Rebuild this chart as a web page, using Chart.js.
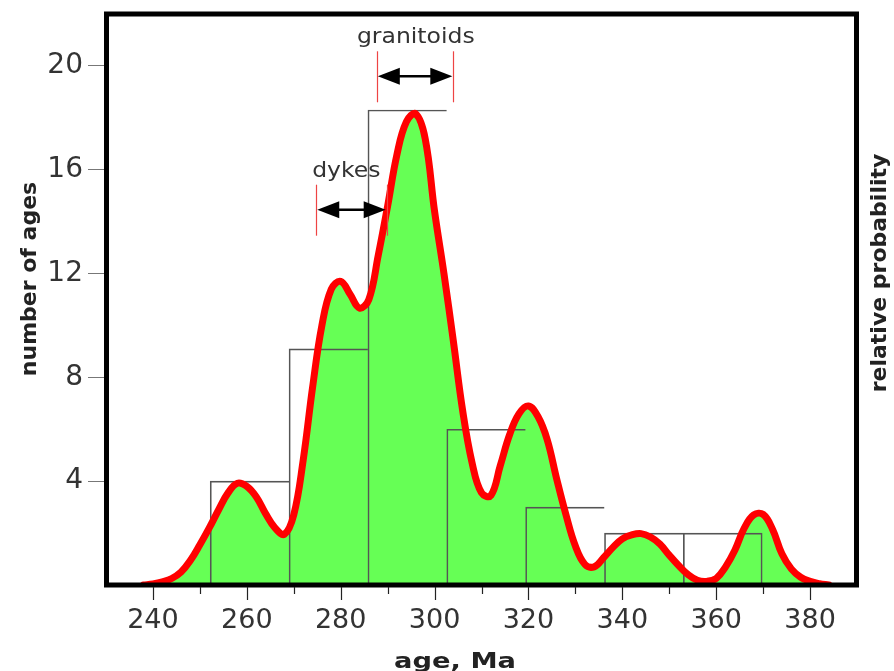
<!DOCTYPE html>
<html>
<head>
<meta charset="utf-8">
<script src="https://cdn.jsdelivr.net/npm/chart.js@4.4.1/dist/chart.umd.min.js"></script>
<style>
  html, body { margin: 0; padding: 0; background: #fff; }
</style>
</head>
<body>
<canvas id="chart" width="894" height="671"></canvas>
<script>
// histogram bins (Ma) and counts
const binEdges = [252.2, 269, 285.8, 302.6, 319.4, 336.2, 353, 369.8];
const binCounts = [4, 9.1, 18.3, 6, 3, 2, 2];

// probability curve, every 2 Ma
const curveAge = [238, 240, 242, 244, 246, 248, 250, 252, 254, 256, 258, 260, 262, 264, 266, 268,
  270, 272, 274, 276, 278, 280, 282, 284, 286, 288, 290, 292, 294, 296, 298, 300,
  302, 304, 306, 308, 310, 312, 314, 316, 318, 320, 322, 324, 326, 328, 330, 332,
  334, 336, 338, 340, 342, 344, 346, 348, 350, 352, 354, 356, 358, 360, 362, 364,
  366, 368, 370, 372, 374, 376, 378, 380, 382, 384];
const curveProb = [0.0, 0.04, 0.12, 0.25, 0.5, 0.95, 1.55, 2.2, 2.9, 3.55, 3.92, 3.8, 3.4, 2.75, 2.2, 1.95,
  2.7, 4.8, 7.6, 10.0, 11.4, 11.7, 11.2, 10.67, 11.0, 12.7, 14.6, 16.6, 17.85, 18.15, 17.2, 14.4,
  12.0, 9.4, 6.7, 4.7, 3.55, 3.45, 4.6, 5.8, 6.6, 6.9, 6.5, 5.6, 4.1, 2.7, 1.5, 0.8,
  0.7, 1.05, 1.45, 1.78, 1.93, 1.98, 1.85, 1.58, 1.15, 0.75, 0.4, 0.18, 0.14, 0.25, 0.7, 1.35,
  2.2, 2.7, 2.72, 2.15, 1.2, 0.62, 0.3, 0.14, 0.05, 0.0];

const xTicks = [240, 260, 280, 300, 320, 340, 360, 380];
const xMinorTicks = [250, 270, 290, 310, 330, 350, 370];
const yTicks = [4, 8, 12, 16, 20];

// age ranges marked with arrows
const annotLabels = ["granitoids", "dykes"];
const annotRanges = [[287.7, 304.0], [274.8, 289.8]];
const annotLevels = [19.6, 14.46];
const annotTextAt = [296, 281.2];

const binWidth = binEdges[1] - binEdges[0];

function stretchedText(ctx, text, x, y, sx, rot) {
  ctx.save();
  ctx.translate(x, y);
  if (rot) ctx.rotate(rot);
  ctx.scale(sx, 1);
  ctx.fillText(text, 0, 0);
  ctx.restore();
}

const extras = {
  id: "extras",
  afterDatasetsDraw(chart) {
    const { ctx, chartArea: a, scales } = chart;
    const xs = scales.x, ys = scales.y;

    // annotations
    annotLabels.forEach((label, i) => {
      const x1 = xs.getPixelForValue(annotRanges[i][0]);
      const x2 = xs.getPixelForValue(annotRanges[i][1]);
      const yc = ys.getPixelForValue(annotLevels[i]);
      ctx.save();
      ctx.strokeStyle = "#ee4444";
      ctx.lineWidth = 1.2;
      [x1, x2].forEach((x) => {
        ctx.beginPath();
        ctx.moveTo(Math.round(x) + 0.5, yc - 25);
        ctx.lineTo(Math.round(x) + 0.5, yc + 26);
        ctx.stroke();
      });
      ctx.strokeStyle = "#000";
      ctx.fillStyle = "#000";
      ctx.lineWidth = 2.5;
      ctx.beginPath();
      ctx.moveTo(x1 + 10, yc);
      ctx.lineTo(x2 - 10, yc);
      ctx.stroke();
      const hl = 22, hh = 8.5;
      ctx.beginPath();
      ctx.moveTo(x1 + 1, yc);
      ctx.lineTo(x1 + 1 + hl, yc - hh);
      ctx.lineTo(x1 + 1 + hl, yc + hh);
      ctx.closePath();
      ctx.fill();
      ctx.beginPath();
      ctx.moveTo(x2 - 1, yc);
      ctx.lineTo(x2 - 1 - hl, yc - hh);
      ctx.lineTo(x2 - 1 - hl, yc + hh);
      ctx.closePath();
      ctx.fill();
      ctx.fillStyle = "#333";
      ctx.font = "21px 'DejaVu Sans'";
      ctx.textAlign = "center";
      ctx.textBaseline = "alphabetic";
      stretchedText(ctx, label, xs.getPixelForValue(annotTextAt[i]), yc - 33, 1.12, 0);
      ctx.restore();
    });

    // frame
    ctx.save();
    ctx.strokeStyle = "#000";
    ctx.lineWidth = 5;
    ctx.strokeRect(a.left + 0.5, a.top, a.right - a.left - 1, a.bottom - a.top);

    // x tick marks, long at labelled ages, short between
    ctx.strokeStyle = "#222";
    ctx.lineWidth = 1.2;
    xTicks.forEach((v) => {
      const x = Math.round(xs.getPixelForValue(v)) + 0.5;
      ctx.beginPath();
      ctx.moveTo(x, a.bottom + 2);
      ctx.lineTo(x, a.bottom + 15);
      ctx.stroke();
    });
    xMinorTicks.forEach((v) => {
      const x = Math.round(xs.getPixelForValue(v)) + 0.5;
      ctx.beginPath();
      ctx.moveTo(x, a.bottom + 2);
      ctx.lineTo(x, a.bottom + 9);
      ctx.stroke();
    });

    // axis titles
    ctx.fillStyle = "#222";
    ctx.font = "bold 22px 'DejaVu Sans'";
    ctx.textAlign = "center";
    ctx.textBaseline = "middle";
    stretchedText(ctx, "number of ages", 30, 279, 1, -Math.PI / 2);
    stretchedText(ctx, "relative probability", 880, 273, 1, -Math.PI / 2);
    ctx.font = "bold 21px 'DejaVu Sans'";
    ctx.textBaseline = "alphabetic";
    stretchedText(ctx, "age, Ma", 455, 668, 1.3, 0);
    ctx.restore();
  },
};

new Chart(document.getElementById("chart"), {
  type: "line",
  data: {
    datasets: [
      {
        type: "line",
        data: curveAge.map((a, i) => ({ x: a, y: curveProb[i] })),
        borderColor: "#ff0000",
        borderWidth: 7,
        backgroundColor: "#66ff55",
        fill: "origin",
        pointRadius: 0,
        tension: 0.4,
        borderJoinStyle: "round",
        borderCapStyle: "round",
        order: 1,
      },
      {
        type: "bar",
        data: binCounts.map((c, i) => ({ x: binEdges[i] + binWidth / 2, y: c })),
        backgroundColor: "rgba(0,0,0,0)",
        borderColor: "#555",
        borderWidth: (ctx) => ({
          top: 1,
          left: 1,
          right: ctx.dataIndex === binCounts.length - 1 ? 1 : 0,
          bottom: 0,
        }),
        borderSkipped: false,
        barPercentage: 1,
        categoryPercentage: 1,
        order: 2,
      },
    ],
  },
  options: {
    responsive: false,
    animation: false,
    layout: { padding: { top: 14, left: 0, right: 0, bottom: 0 } },
    plugins: {
      legend: { display: false },
      tooltip: { enabled: false },
      filler: { drawTime: "beforeDatasetsDraw" },
    },
    scales: {
      x: {
        type: "linear",
        min: 230,
        max: 390,
        offset: false,
        afterBuildTicks: (s) => { s.ticks = xTicks.map((v) => ({ value: v })); },
        afterFit: (s) => { s.height = 86; s.paddingLeft = 0; s.paddingRight = 0; },
        grid: { display: false, drawTicks: true, tickLength: 14 },
        border: { display: false },
        ticks: {
          font: { family: "DejaVu Sans", size: 27 },
          color: "#333",
          padding: 6,
          maxRotation: 0,
          autoSkip: false,
        },
      },
      y: {
        type: "linear",
        position: "left",
        min: 0,
        max: 22,
        afterBuildTicks: (s) => { s.ticks = yTicks.map((v) => ({ value: v })); },
        afterFit: (s) => { s.width = 106; s.paddingTop = 0; s.paddingBottom = 0; },
        grid: {
          drawOnChartArea: false,
          drawTicks: true,
          tickLength: 18,
          tickWidth: 1,
          tickColor: "#777",
        },
        border: { display: false },
        ticks: { font: { family: "DejaVu Sans", size: 28 }, color: "#333", padding: 5 },
      },
      y2: {
        type: "linear",
        position: "right",
        min: 0,
        max: 1,
        grid: { display: false },
        border: { display: false },
        ticks: { display: false },
        afterFit: (s) => { s.width = 37; },
      },
    },
  },
  plugins: [extras],
});
</script>
</body>
</html>
